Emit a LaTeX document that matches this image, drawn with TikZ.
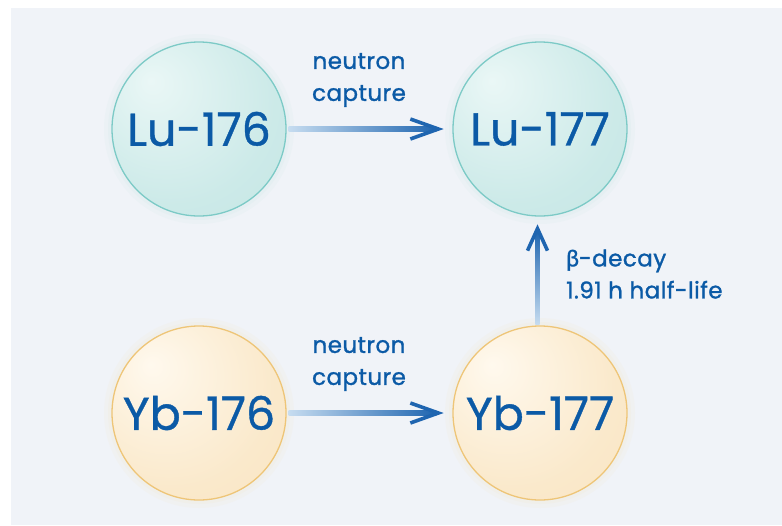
\documentclass[tikz,border=0pt]{standalone}
\usepackage{fontspec}
\setmainfont{Poppins}
\newfontfamily\bigfont{Poppins}[FakeBold=0.8]
\newfontfamily\smfont{Poppins}[FakeBold=1.2, LetterSpace=2]
\newfontfamily\gkfont{Lato}[FakeBold=1.2]
\usetikzlibrary{calc}
\definecolor{bgc}{HTML}{F0F3F8}
\definecolor{txt}{HTML}{0B5AA6}
\definecolor{tealin}{HTML}{EAF7F6}
\definecolor{tealout}{HTML}{BFE4E2}
\definecolor{tealedge}{HTML}{7CCAC6}
\definecolor{orin}{HTML}{FFF9EE}
\definecolor{orout}{HTML}{F8E2BC}
\definecolor{oredge}{HTML}{EEC577}
\definecolor{arlight}{HTML}{C6DCF0}
\definecolor{ardark}{HTML}{1F65B0}
\pgfdeclareradialshading{tealball}{\pgfpoint{-14bp}{14bp}}{color(0bp)=(tealin); color(30bp)=(tealout!70!tealin); color(62bp)=(tealout); color(70bp)=(tealout)}
\pgfdeclareradialshading{orball}{\pgfpoint{-14bp}{14bp}}{color(0bp)=(orin); color(30bp)=(orout!70!orin); color(62bp)=(orout); color(70bp)=(orout)}
\tikzset{
  iso/.style={circle, minimum size=174pt, inner sep=0pt, text=txt, font=\bigfont\fontsize{46}{52}\selectfont},
  lu/.style={iso, shading=tealball, draw=tealedge, line width=1.3pt},
  yb/.style={iso, shading=orball, draw=oredge, line width=1.3pt},
  lbl/.style={text=txt, font=\smfont\fontsize{23}{32}\selectfont, inner sep=0pt},
  head/.style={draw=ardark, line width=3.6pt, line join=miter, line cap=butt},
}
\newcommand{\glow}[2]{%
  \fill[#2, opacity=0.10] (#1) circle (95pt);
  \fill[#2, opacity=0.12] (#1) circle (91pt);
}
\begin{document}
\begin{tikzpicture}[x=1pt, y=-1pt]
\useasboundingbox (0,0) rectangle (782,525);
\fill[white] (0,0) rectangle (782,525);
\fill[bgc] (11,8) rectangle (782,525);
\coordinate (c1) at (199,129);
\coordinate (c2) at (540,129);
\coordinate (c3) at (199,413);
\coordinate (c4) at (540,413);
\glow{c1}{tealout}
\glow{c2}{tealout}
\glow{c3}{orout}
\glow{c4}{orout}
\node[lu] (lu176) at (c1) {Lu-176};
\node[lu] (lu177) at (c2) {Lu-177};
\node[yb] (yb176) at (c3) {Yb-176};
\node[yb] (yb177) at (c4) {Yb-177};
% top arrow
\shade[left color=arlight, right color=ardark] ($(lu176.east)+(2,-2.6)$) rectangle ($(lu177.west)+(-16,2.6)$);
\draw[head] ($(lu177.west)+(-42,-10)$) -- ($(lu177.west)+(-14,0)$) -- ($(lu177.west)+(-42,10)$);
% bottom arrow
\shade[left color=arlight, right color=ardark] ($(yb176.east)+(2,-2.6)$) rectangle ($(yb177.west)+(-16,2.6)$);
\draw[head] ($(yb177.west)+(-42,-10)$) -- ($(yb177.west)+(-14,0)$) -- ($(yb177.west)+(-42,10)$);
% vertical arrow
\shade[bottom color=arlight, top color=ardark] ($(yb177.north)+(-4.6,-1)$) rectangle ($(lu177.south)+(-0.4,14)$);
\draw[head] ($(lu177.south)+(-12.5,34)$) -- ($(lu177.south)+(-2.5,12)$) -- ($(lu177.south)+(7.5,34)$);
% labels
\node[lbl, align=center] (l1) at (359,80) {neutron\\capture};
\node[lbl, align=center] (l2) at (359,364) {neutron\\capture};
\node[lbl, align=left, anchor=west] (l3) at (566,274) {{\gkfont β}-decay\\1.91 h half-life};
\end{tikzpicture}
\end{document}
